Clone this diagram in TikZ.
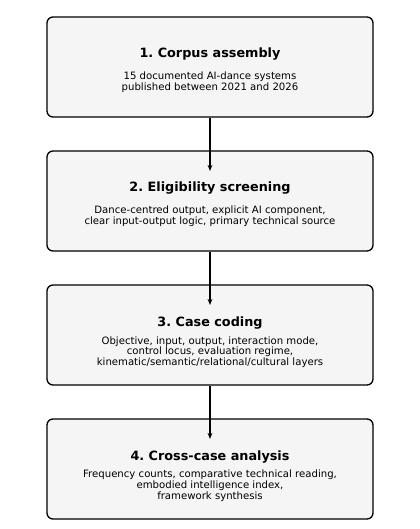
\documentclass[tikz,border=0pt]{standalone}
\usepackage{fontspec}
\setmainfont{DejaVu Sans}
\usetikzlibrary{arrows.meta}
\frenchspacing
\begin{document}
\begin{tikzpicture}[x=0.75pt,y=-0.75pt,
  stage/.style={draw=black,line width=1pt,fill=black!4,rounded corners=4.5pt,
    minimum width=244.5pt,minimum height=75pt,inner sep=0pt},
  ttl/.style={font=\fontsize{9.6}{11}\selectfont\bfseries,inner sep=0pt},
  body/.style={font=\fontsize{7.6}{8.1}\selectfont,align=center,inner sep=0pt},
  arr/.style={-{Stealth[length=4.5pt,width=3.5pt]},line width=0.9pt}]
\useasboundingbox (0,0) rectangle (420,529);
\node[stage] (b1) at (210,67) {};
\node[stage] (b2) at (210,201) {};
\node[stage] (b3) at (210,335) {};
\node[stage] (b4) at (210,469) {};
\node[ttl] (t1) at (210,54) {1. Corpus assembly};
\node[body] (d1) at (210,82) {15 documented AI-dance systems\\published between 2021 and 2026};
\node[ttl] (t2) at (210,188.5) {2. Eligibility screening};
\node[body] (d2) at (210,216) {Dance-centred output, explicit AI component,\\clear input-output logic, primary technical source};
\node[ttl] (t3) at (210,323) {3. Case coding};
\node[body] (d3) at (210,352) {Objective, input, output, interaction mode,\\control locus, evaluation regime,\\kinematic/semantic/relational/cultural layers};
\node[ttl] (t4) at (210,457) {4. Cross-case analysis};
\node[body] (d4) at (210,485.5) {Frequency counts, comparative technical reading,\\embodied intelligence index,\\framework synthesis};
\draw[arr] (b1.south) -- ([yshift=-15.5pt]b2.north);
\draw[arr] (b2.south) -- ([yshift=-15.5pt]b3.north);
\draw[arr] (b3.south) -- ([yshift=-15.5pt]b4.north);
\end{tikzpicture}
\end{document}
